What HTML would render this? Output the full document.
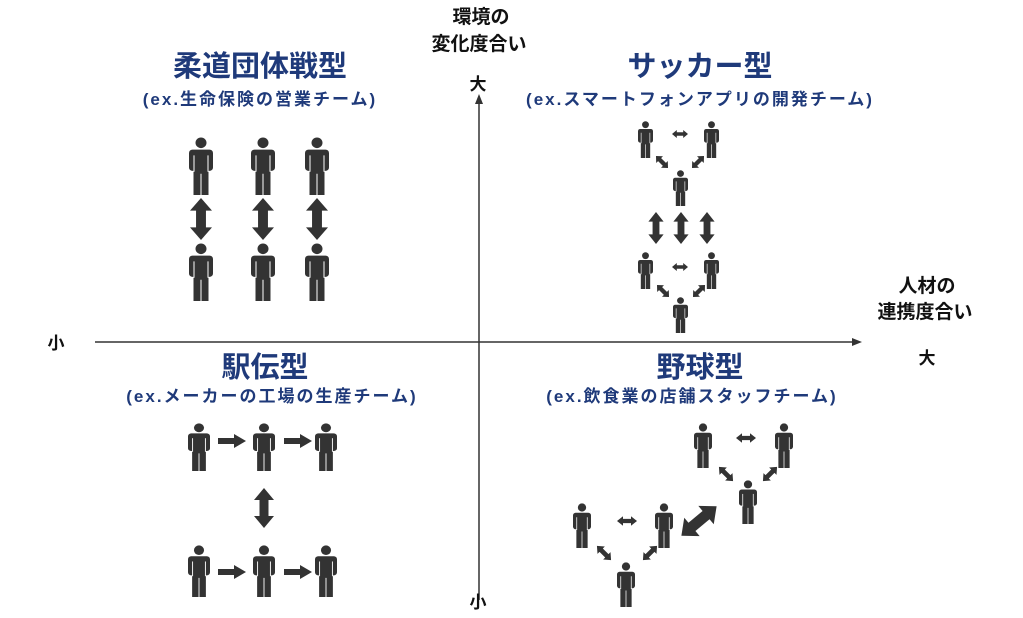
<!DOCTYPE html>
<html><head><meta charset="utf-8"><style>
html,body{margin:0;padding:0;background:#fff;}
svg{display:block;}
.t{font-family:"Liberation Sans","Noto Sans CJK JP",sans-serif;}
</style></head><body>
<svg width="1023" height="618" viewBox="0 0 1023 618" xmlns="http://www.w3.org/2000/svg">
<defs>
<symbol id="p" viewBox="0 0 24 60" preserveAspectRatio="none">
<circle cx="12" cy="6" r="5.5" fill="#333"/>
<rect x="0" y="13" width="24" height="22" rx="3.5" fill="#333"/>
<rect x="4.5" y="30" width="15" height="30" fill="#333"/>
<line x1="5" y1="19" x2="5" y2="36" stroke="#fff" stroke-width="1"/>
<line x1="19" y1="19" x2="19" y2="36" stroke="#fff" stroke-width="1"/>
<line x1="12" y1="38" x2="12" y2="60" stroke="#fff" stroke-width="1"/>
</symbol>
<polygon id="da" points="0,20 30,0 30,11 70,11 70,0 100,20 70,40 70,29 30,29 30,40" fill="#333"/>
<polygon id="ra" points="0,4 16,4 16,0 28,7 16,14 16,10 0,10" fill="#333"/>
</defs>

<!-- axes -->
<line x1="95" y1="342" x2="855" y2="342" stroke="#333" stroke-width="1.5"/>
<polygon points="862,342 852,338 852,346" fill="#333"/>
<line x1="479" y1="600" x2="479" y2="102" stroke="#333" stroke-width="1.5"/>
<polygon points="479,94 475,104 483,104" fill="#333"/>

<g class="t" fill="#111" font-size="19" font-weight="bold" text-anchor="middle">
<text x="481" y="23">環境の</text>
<text x="479" y="50">変化度合い</text>
<text x="478" y="90" font-size="17">大</text>
<text x="478" y="608" font-size="17">小</text>
<text x="56" y="349" font-size="17">小</text>
<text x="927" y="292">人材の</text>
<text x="925" y="318">連携度合い</text>
<text x="927" y="364" font-size="17">大</text>
</g>

<g class="t" fill="#1f3a7a" font-weight="bold" text-anchor="middle">
<text x="260" y="76" font-size="29">柔道団体戦型</text>
<text x="260" y="105" font-size="17" letter-spacing="2">(ex.生命保険の営業チーム)</text>
<text x="700" y="76" font-size="29">サッカー型</text>
<text x="700" y="105" font-size="17" letter-spacing="2">(ex.スマートフォンアプリの開発チーム)</text>
<text x="265" y="377" font-size="29">駅伝型</text>
<text x="272" y="402" font-size="17" letter-spacing="2">(ex.メーカーの工場の生産チーム)</text>
<text x="700" y="377" font-size="29">野球型</text>
<text x="692" y="402" font-size="17" letter-spacing="2">(ex.飲食業の店舗スタッフチーム)</text>
</g>

<!-- TL -->
<use href="#p" x="189" y="137" width="24" height="58"/>
<use href="#p" x="251" y="137" width="24" height="58"/>
<use href="#p" x="305" y="137" width="24" height="58"/>
<use href="#p" x="189" y="243" width="24" height="58"/>
<use href="#p" x="251" y="243" width="24" height="58"/>
<use href="#p" x="305" y="243" width="24" height="58"/>
<use href="#da" transform="translate(201,219) rotate(90) scale(0.42,0.55) translate(-50,-20)"/>
<use href="#da" transform="translate(263,219) rotate(90) scale(0.42,0.55) translate(-50,-20)"/>
<use href="#da" transform="translate(317,219) rotate(90) scale(0.42,0.55) translate(-50,-20)"/>

<!-- TR -->
<use href="#p" x="638" y="121" width="15" height="37"/>
<use href="#p" x="704" y="121" width="15" height="37"/>
<use href="#p" x="673" y="170" width="15" height="36"/>
<use href="#da" transform="translate(680,134) scale(0.16,0.2) translate(-50,-20)"/>
<use href="#da" transform="translate(662,162) rotate(45) scale(0.17,0.24) translate(-50,-20)"/>
<use href="#da" transform="translate(698,162) rotate(-45) scale(0.17,0.24) translate(-50,-20)"/>
<use href="#da" transform="translate(656,228) rotate(90) scale(0.32,0.38) translate(-50,-20)"/>
<use href="#da" transform="translate(681,228) rotate(90) scale(0.32,0.38) translate(-50,-20)"/>
<use href="#da" transform="translate(707,228) rotate(90) scale(0.32,0.38) translate(-50,-20)"/>
<use href="#p" x="638" y="252" width="15" height="37"/>
<use href="#p" x="704" y="252" width="15" height="37"/>
<use href="#p" x="673" y="297" width="15" height="36"/>
<use href="#da" transform="translate(680,267) scale(0.16,0.2) translate(-50,-20)"/>
<use href="#da" transform="translate(663,291) rotate(45) scale(0.17,0.24) translate(-50,-20)"/>
<use href="#da" transform="translate(699,291) rotate(-45) scale(0.17,0.24) translate(-50,-20)"/>

<!-- BL -->
<use href="#p" x="188" y="423" width="22" height="48"/>
<use href="#p" x="253" y="423" width="22" height="48"/>
<use href="#p" x="315" y="423" width="22" height="48"/>
<use href="#ra" x="218" y="434"/>
<use href="#ra" x="284" y="434"/>
<use href="#da" transform="translate(264,508) rotate(90) scale(0.4,0.5) translate(-50,-20)"/>
<use href="#p" x="188" y="545" width="22" height="52"/>
<use href="#p" x="253" y="545" width="22" height="52"/>
<use href="#p" x="315" y="545" width="22" height="52"/>
<use href="#ra" x="218" y="565"/>
<use href="#ra" x="284" y="565"/>

<!-- BR -->
<use href="#p" x="694" y="423" width="18" height="45"/>
<use href="#p" x="775" y="423" width="18" height="45"/>
<use href="#p" x="739" y="480" width="18" height="44"/>
<use href="#da" transform="translate(746,438) scale(0.2,0.24) translate(-50,-20)"/>
<use href="#da" transform="translate(726,474) rotate(45) scale(0.2,0.26) translate(-50,-20)"/>
<use href="#da" transform="translate(770,474) rotate(-45) scale(0.2,0.26) translate(-50,-20)"/>
<use href="#p" x="573" y="503" width="18" height="45"/>
<use href="#p" x="655" y="503" width="18" height="45"/>
<use href="#p" x="617" y="562" width="18" height="45"/>
<use href="#da" transform="translate(627,521) scale(0.2,0.24) translate(-50,-20)"/>
<use href="#da" transform="translate(604,553) rotate(45) scale(0.2,0.26) translate(-50,-20)"/>
<use href="#da" transform="translate(650,553) rotate(-45) scale(0.2,0.26) translate(-50,-20)"/>
<use href="#da" transform="translate(699,521) rotate(-40) scale(0.46,0.6) translate(-50,-20)"/>
</svg>
</body></html>
